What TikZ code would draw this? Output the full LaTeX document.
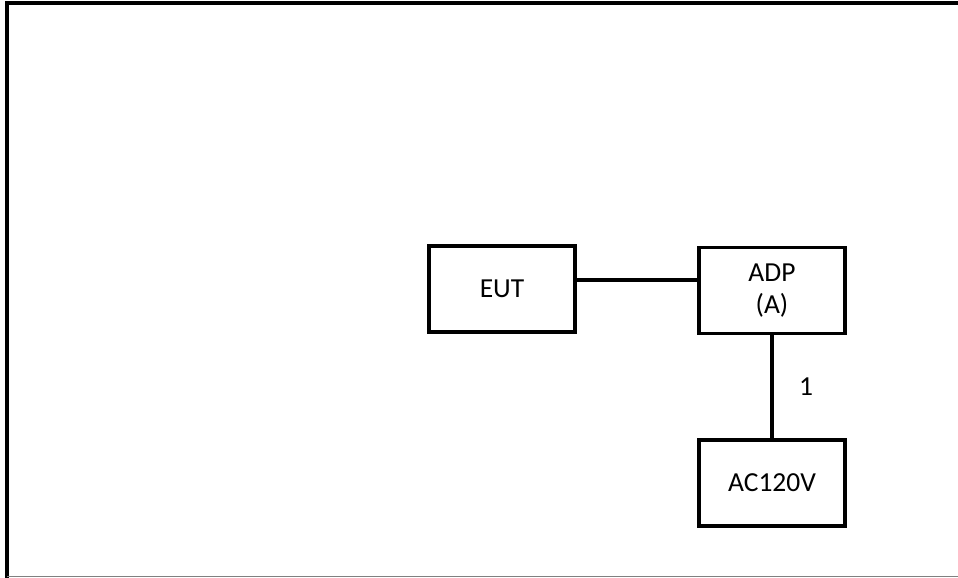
\documentclass[tikz,border=0pt]{standalone}
\usepackage{fontspec}
\setmainfont{Carlito}
\usetikzlibrary{calc}

\begin{document}
\begin{tikzpicture}[x=1pt,y=-1pt,
        unitbox/.style={draw,line width=3.5pt,minimum width=146pt,minimum height=86pt,
            inner sep=0pt,align=center,font=\fontsize{27.5}{32}\selectfont},
        wire/.style={line width=3.5pt}]
        \useasboundingbox (0,0) rectangle (958,578);
        % frame round the setup
        \coordinate (TL) at (7,3);
        \coordinate (TR) at (958,3);
        \coordinate (BL) at (7,578);
        \draw[line width=3.5pt] (TR) -- (TL) -- (BL);
        \draw[gray,line width=1.5pt] (7,576.5) -- (958,576.5);
        % units
        \node[unitbox] (EUT) at (502,289) {EUT};
        \node[unitbox] (ADP) at (772,290.5) {ADP\\(A)};
        \node[unitbox] (AC) at (772,483) {AC120V};
        % cables
        \draw[wire] ([yshift=9pt]EUT.east) -- ([yshift=9pt]EUT.east -| ADP.west);
        \draw[wire] (ADP.south) -- (AC.north)
            node[midway,right=22pt,font=\fontsize{27.5}{32}\selectfont] (cab1) {1};
\end{tikzpicture}
\end{document}
